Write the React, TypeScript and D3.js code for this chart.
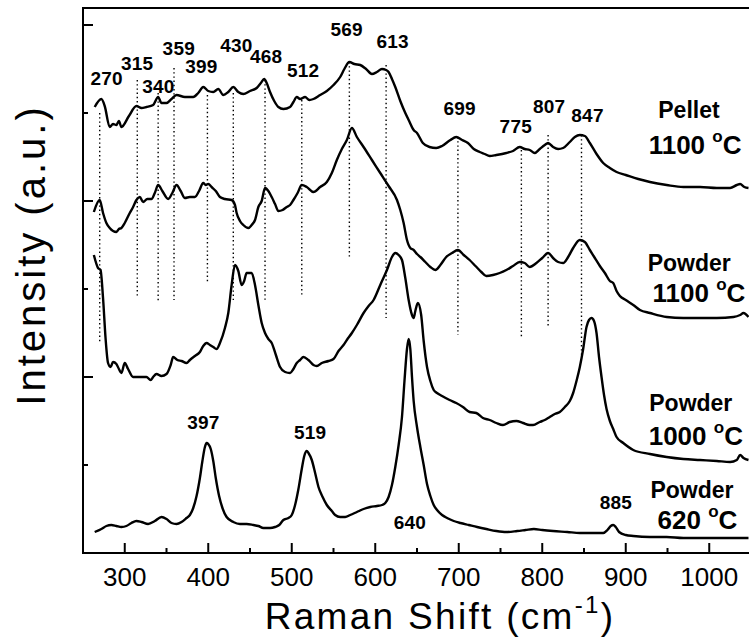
import React from 'react';
import * as d3 from 'd3';

// ---------- data (wavenumber cm^-1, intensity a.u.) ----------
const pellet1100: [number, number][] = [
  [264, 446], [272, 454], [276, 447], [282, 426], [286, 429], [290, 428], [293, 432], [296, 426],
  [305, 437], [314, 447], [320, 445], [326, 446], [334, 448], [340, 456], [344, 450], [350, 450],
  [356, 454], [362, 458], [372, 456], [382, 456], [388, 460], [394, 466], [400, 462], [406, 461],
  [412, 464], [418, 458], [424, 461], [430, 466], [436, 461], [442, 459], [450, 462], [458, 465],
  [463, 470], [467, 474], [470, 470], [474, 461], [479, 452], [484, 446], [490, 444], [498, 446],
  [502, 451], [506, 456], [510, 454], [516, 456], [521, 453], [526, 454], [534, 458], [542, 462],
  [550, 468], [558, 476], [563, 484], [569, 491], [575, 489], [582, 488], [589, 484], [596, 479],
  [602, 481], [608, 484], [613, 483], [616, 481], [620, 474], [624, 466], [630, 452], [636, 440],
  [640, 433], [646, 423], [650, 420], [657, 410], [665, 406], [673, 405], [680, 407], [690, 413],
  [697, 416], [704, 413], [711, 410], [718, 404], [725, 401], [731, 399], [737, 397], [745, 398],
  [757, 400], [765, 402], [773, 406], [779, 404], [785, 403], [791, 400], [797, 404], [803, 408],
  [807, 410], [813, 406], [819, 404], [825, 405], [833, 411], [839, 416], [845, 418], [851, 417],
  [857, 410], [865, 399], [873, 390], [881, 385], [889, 381], [900, 378], [915, 374], [929, 371],
  [949, 368], [969, 366], [989, 366], [1009, 365], [1025, 365], [1033, 368], [1037, 369], [1042, 366],
  [1047, 365],
];

const powder1100: [number, number][] = [
  [263, 341], [270, 353], [274, 340], [278, 330], [282, 325], [286, 322], [290, 321], [293, 324],
  [296, 325], [300, 330], [306, 340], [310, 346], [314, 353], [318, 356], [322, 351], [327, 354],
  [332, 354], [336, 360], [340, 368], [345, 362], [352, 354], [357, 360], [362, 368], [367, 362],
  [372, 355], [378, 356], [384, 356], [389, 362], [394, 370], [397, 368], [400, 369], [404, 366],
  [409, 362], [414, 356], [420, 354], [428, 353], [432, 348], [434, 340], [438, 332], [442, 328],
  [448, 325], [452, 328], [456, 333], [460, 346], [464, 352], [468, 365], [472, 362], [476, 356],
  [480, 349], [484, 342], [489, 343], [494, 346], [498, 348], [502, 353], [507, 360], [512, 368],
  [518, 366], [526, 361], [534, 366], [542, 371], [548, 380], [554, 393], [560, 404], [566, 413],
  [572, 425], [578, 416], [586, 406], [596, 393], [606, 380], [616, 367], [626, 353], [630, 343],
  [634, 330], [638, 313], [642, 305], [646, 303], [650, 299], [654, 296], [660, 291], [666, 286],
  [672, 283], [678, 288], [685, 296], [692, 300], [699, 303], [706, 298], [713, 293], [720, 287],
  [727, 281], [733, 277], [741, 278], [749, 280], [757, 283], [765, 287], [773, 291], [779, 290],
  [785, 286], [793, 290], [800, 295], [807, 300], [813, 295], [819, 291], [825, 290], [831, 296],
  [837, 305], [845, 313], [851, 311], [857, 303], [863, 295], [869, 287], [875, 280], [881, 272],
  [885, 270], [889, 262], [893, 257], [900, 253], [909, 248], [917, 243], [929, 240], [949, 236],
  [969, 235], [989, 235], [1009, 235], [1029, 236], [1037, 238], [1041, 240], [1047, 236],
];

const powder1000: [number, number][] = [
  [263, 298], [268, 285], [271, 283], [274, 255], [277, 215], [280, 190], [283, 186], [286, 191],
  [290, 189], [293, 184], [296, 180], [300, 190], [304, 184], [310, 176], [318, 176], [326, 176],
  [331, 173], [334, 176], [338, 179], [344, 177], [350, 179], [355, 188], [358, 196], [363, 193],
  [368, 192], [374, 190], [378, 193], [384, 197], [390, 201], [394, 207], [398, 210], [402, 208],
  [406, 206], [410, 204], [414, 210], [420, 225], [424, 240], [428, 268], [432, 288], [436, 282],
  [440, 268], [443, 272], [446, 280], [452, 280], [456, 268], [460, 248], [464, 230], [468, 220],
  [472, 214], [476, 210], [481, 198], [486, 186], [492, 181], [498, 180], [502, 184], [506, 190],
  [510, 193], [514, 196], [520, 193], [526, 188], [530, 187], [536, 190], [544, 192], [550, 194],
  [556, 202], [562, 208], [566, 213], [572, 220], [578, 228], [586, 240], [592, 247], [598, 253],
  [606, 268], [614, 283], [620, 296], [624, 300], [628, 298], [632, 293], [636, 275], [640, 253],
  [644, 238], [646, 235], [648, 242], [651, 250], [655, 238], [658, 212], [662, 186], [666, 172],
  [670, 163], [674, 160], [680, 157], [689, 153], [697, 150], [705, 146], [713, 141], [721, 140],
  [729, 135], [737, 133], [745, 130], [753, 128], [761, 131], [769, 132], [777, 130], [785, 128],
  [789, 128], [797, 131], [803, 133], [809, 136], [815, 139], [821, 141], [827, 146], [833, 152],
  [837, 160], [841, 172], [845, 186], [849, 204], [853, 226], [856, 233], [859, 235], [862, 232],
  [865, 220], [868, 196], [871, 176], [874, 158], [877, 144], [881, 132], [885, 124], [889, 116],
  [897, 110], [909, 103], [929, 99], [949, 96], [969, 94], [989, 93], [1009, 92], [1025, 91],
  [1033, 93], [1037, 98], [1041, 95], [1047, 93],
];

const powder620: [number, number][] = [
  [264, 21], [272, 24], [278, 27], [284, 28], [290, 27], [296, 26], [302, 27], [308, 30],
  [314, 32], [320, 31], [328, 29], [336, 32], [344, 36], [350, 34], [356, 30], [362, 29],
  [368, 31], [374, 35], [378, 38], [382, 45], [386, 57], [390, 75], [393, 92], [396, 106],
  [398, 110], [400, 109], [403, 104], [406, 92], [409, 75], [413, 57], [417, 45], [422, 36],
  [430, 31], [438, 29], [446, 29], [454, 28], [460, 27], [466, 25], [474, 25], [480, 26],
  [485, 28], [490, 33], [496, 35], [500, 38], [504, 48], [508, 64], [512, 84], [515, 97],
  [518, 102], [520, 100], [524, 93], [528, 80], [532, 66], [537, 56], [542, 48], [548, 42],
  [552, 38], [558, 36], [564, 36], [570, 38], [578, 41], [586, 44], [594, 46], [602, 47],
  [608, 48], [612, 50], [616, 56], [620, 68], [624, 86], [628, 108], [632, 136], [635, 172],
  [638, 204], [640, 214], [642, 204], [644, 176], [646, 152], [650, 126], [654, 106], [658, 88],
  [662, 69], [666, 57], [670, 48], [674, 43], [680, 38], [686, 35], [694, 32], [702, 30],
  [712, 28], [722, 26], [733, 24], [745, 22], [757, 21], [770, 22], [780, 23], [790, 24],
  [800, 23], [813, 22], [830, 21], [845, 20], [862, 20], [873, 20], [878, 23], [882, 27],
  [885, 28], [888, 26], [892, 21], [900, 18], [909, 17], [929, 16], [949, 16], [969, 15],
  [989, 15], [1009, 15], [1029, 15], [1047, 15],
];

const spectra = [pellet1100, powder1100, powder1000, powder620];

// dotted peak guides
const guidePeaks = [270, 315, 340, 359, 399, 430, 468, 512, 569, 613, 699, 775, 807, 847];
const guideTops = [440, 473, 460, 485, 458, 460, 473, 453, 491, 488, 416, 403, 418, 418];
const guideBottoms = [210, 256, 250, 253, 270, 253, 251, 256, 295, 235, 218, 215, 226, 196];

// peak labels (text, label centre wavenumber, baseline intensity)
const peakLabels = ['270', '315', '340', '359', '399', '430', '468', '512', '569', '613', '699', '775', '807', '847', '397', '519', '640', '885'];
const peakLabelX = [278.4, 314.9, 340.2, 364.7, 391.7, 433.6, 469.2, 513.7, 565.8, 620.7, 701.1, 768.3, 808.3, 854.2, 394.1, 521.9, 641.6, 888.1];
const peakLabelY = [468, 483, 460, 498, 480, 501, 490, 476, 517, 505, 438, 420, 440, 431, 124, 114, 24, 44];

// sample labels
const sampleNames = ['Pellet', 'Powder', 'Powder', 'Powder'];
const sampleTemps = ['1100', '1100', '1000', '620'];
const sampleNameX = [975.7, 976, 977.9, 979.3];
const sampleNameY = [435, 282, 142, 55];
const sampleTempX = [983, 987.7, 983.9, 985.9];
const sampleTempY = [399, 251, 108, 24.5];

const xMajorTicks = [300, 400, 500, 600, 700, 800, 900, 1000];
const xMinorTicks = [350, 450, 550, 650, 750, 850, 950];
const yMajorTicks = [176, 352, 528];
const yMinorTicks = [88, 264, 440];

const FONT = '"Liberation Sans", Arial, Helvetica, sans-serif';

export default function App() {
  const W = 749;
  const H = 644;
  const left = 83, right = 751, top = 8, bottom = 553;
  const x = d3.scaleLinear().domain([250, 1050]).range([left, right]);
  const y = d3.scaleLinear().domain([0, 545]).range([bottom, top]);
  const line = d3
    .line<[number, number]>()
    .x((d) => x(d[0]))
    .y((d) => y(d[1]))
    .curve(d3.curveMonotoneX);

  return (
    <svg
      width={W}
      height={H}
      style={{ position: 'absolute', left: 0, top: 0, background: '#fff' }}
      fontFamily={FONT}
    >
      <rect x={0} y={0} width={W} height={H} fill="#fff" />
      {/* dotted guides */}
      {guidePeaks.map((p, i) => (
        <line
          key={'g' + i}
          x1={x(p)}
          x2={x(p)}
          y1={y(guideTops[i])}
          y2={y(guideBottoms[i])}
          stroke="#000"
          strokeWidth={1.4}
          strokeDasharray="1.4 2.8"
        />
      ))}
      {/* spectra */}
      {spectra.map((s, i) => (
        <path
          key={'s' + i}
          d={line(s) || ''}
          fill="none"
          stroke="#000"
          strokeWidth={2.4}
          strokeLinejoin="round"
        />
      ))}
      {/* frame */}
      <line x1={left} x2={right} y1={top} y2={top} stroke="#000" strokeWidth={2} />
      <line x1={left} x2={left} y1={top - 1} y2={bottom + 1} stroke="#000" strokeWidth={2} />
      <line x1={left - 1} x2={right} y1={bottom} y2={bottom} stroke="#000" strokeWidth={2.2} />
      {/* x ticks */}
      {xMajorTicks.map((t) => (
        <line key={'xt' + t} x1={x(t)} x2={x(t)} y1={bottom} y2={bottom - 10} stroke="#000" strokeWidth={2} />
      ))}
      {xMinorTicks.map((t) => (
        <line key={'xm' + t} x1={x(t)} x2={x(t)} y1={bottom} y2={bottom - 5} stroke="#000" strokeWidth={2} />
      ))}
      {xMajorTicks.map((t) => (
        <text key={'xl' + t} x={x(t)} y={586} textAnchor="middle" fontSize={26}>
          {t}
        </text>
      ))}
      {/* y ticks */}
      {yMajorTicks.map((t) => (
        <line key={'yt' + t} x1={left} x2={left + 10} y1={y(t)} y2={y(t)} stroke="#000" strokeWidth={2} />
      ))}
      {yMinorTicks.map((t) => (
        <line key={'ym' + t} x1={left} x2={left + 5} y1={y(t)} y2={y(t)} stroke="#000" strokeWidth={2} />
      ))}
      {/* peak labels */}
      {peakLabels.map((l, i) => (
        <text
          key={'pl' + i}
          x={x(peakLabelX[i])}
          y={y(peakLabelY[i])}
          textAnchor="middle"
          fontSize={19}
          fontWeight="bold"
          letterSpacing={0.2}
        >
          {l}
        </text>
      ))}
      {/* sample labels */}
      {sampleNames.map((n, i) => (
        <g key={'sn' + i}>
          <text
            x={x(sampleNameX[i])}
            y={y(sampleNameY[i])}
            textAnchor="middle"
            fontSize={23}
            fontWeight="bold"
          >
            {n}
          </text>
          <text
            x={x(sampleTempX[i])}
            y={y(sampleTempY[i])}
            textAnchor="middle"
            fontSize={26}
            fontWeight="bold"
          >
            {sampleTemps[i] + ' '}
            <tspan fontSize={17} dy={-12}>o</tspan>
            <tspan dy={12}>C</tspan>
          </text>
        </g>
      ))}
      {/* axis titles */}
      <text x={440} y={629} textAnchor="middle" fontSize={37} letterSpacing={2.3}>
        Raman Shift (cm
        <tspan fontSize={24} dy={-16}>-1</tspan>
        <tspan dy={16}>)</tspan>
      </text>
      <text
        transform={`translate(45, 255) rotate(-90)`}
        textAnchor="middle"
        fontSize={40}
        letterSpacing={3}
      >
        Intensity (a.u.)
      </text>
    </svg>
  );
}
